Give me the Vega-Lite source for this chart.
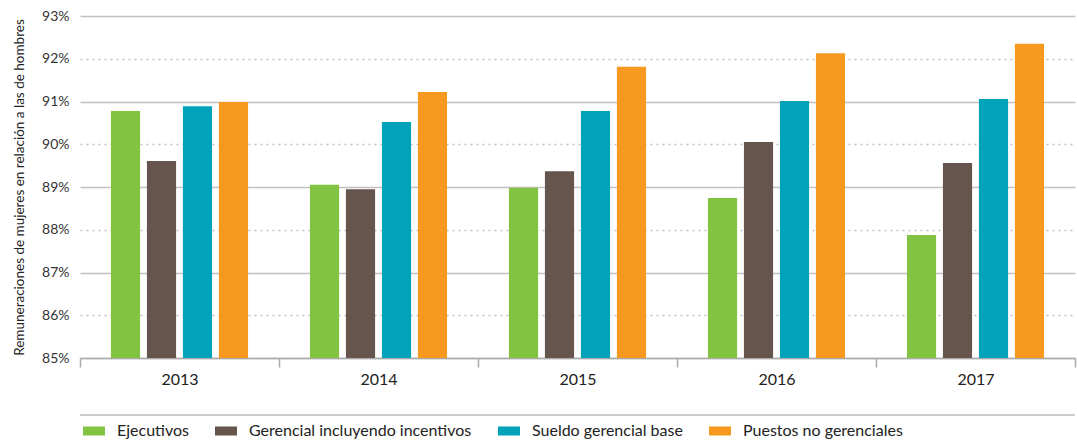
{
  "$schema": "https://vega.github.io/schema/vega-lite/v6.json",
  "width": 995,
  "height": 342,
  "autosize": {"type": "none"},
  "padding": {"left": 80, "top": 16, "right": 2, "bottom": 83},
  "config": {"font": "Lato", "view": {"stroke": null}},
  "data": {
    "values": [
      {"year": "2013", "serie": "Ejecutivos", "valor": 90.78},
      {"year": "2013", "serie": "Gerencial incluyendo incentivos", "valor": 89.61},
      {"year": "2013", "serie": "Sueldo gerencial base", "valor": 90.89},
      {"year": "2013", "serie": "Puestos no gerenciales", "valor": 90.99},
      {"year": "2014", "serie": "Ejecutivos", "valor": 89.05},
      {"year": "2014", "serie": "Gerencial incluyendo incentivos", "valor": 88.95},
      {"year": "2014", "serie": "Sueldo gerencial base", "valor": 90.52},
      {"year": "2014", "serie": "Puestos no gerenciales", "valor": 91.22},
      {"year": "2015", "serie": "Ejecutivos", "valor": 88.98},
      {"year": "2015", "serie": "Gerencial incluyendo incentivos", "valor": 89.37},
      {"year": "2015", "serie": "Sueldo gerencial base", "valor": 90.78},
      {"year": "2015", "serie": "Puestos no gerenciales", "valor": 91.81},
      {"year": "2016", "serie": "Ejecutivos", "valor": 88.74},
      {"year": "2016", "serie": "Gerencial incluyendo incentivos", "valor": 90.05},
      {"year": "2016", "serie": "Sueldo gerencial base", "valor": 91.01},
      {"year": "2016", "serie": "Puestos no gerenciales", "valor": 92.13},
      {"year": "2017", "serie": "Ejecutivos", "valor": 87.88},
      {"year": "2017", "serie": "Gerencial incluyendo incentivos", "valor": 89.56},
      {"year": "2017", "serie": "Sueldo gerencial base", "valor": 91.06},
      {"year": "2017", "serie": "Puestos no gerenciales", "valor": 92.35}
    ]
  },
  "layer": [
    {
      "mark": {"type": "bar"},
      "encoding": {
        "x": {
          "field": "year", "type": "nominal",
          "scale": {"paddingInner": 0, "paddingOuter": 0},
          "axis": {
            "title": null, "labelAngle": 0, "tickBand": "extent",
            "domainColor": "#aaaaaa", "domainWidth": 1.5,
            "tickColor": "#aaaaaa", "tickWidth": 1.5, "tickSize": 9,
            "labelFontSize": 16, "labelColor": "#222222", "labelPadding": 4
          }
        },
        "xOffset": {
          "field": "serie", "type": "nominal",
          "sort": ["Ejecutivos", "Gerencial incluyendo incentivos", "Sueldo gerencial base", "Puestos no gerenciales"],
          "scale": {"paddingInner": 0.19, "paddingOuter": 0.86}
        },
        "y": {
          "field": "valor", "type": "quantitative",
          "scale": {"domain": [85, 93], "nice": false, "zero": false},
          "axis": {
            "values": [85, 86, 87, 88, 89, 90, 91, 92, 93],
            "labelExpr": "datum.value + '%'",
            "domain": false, "ticks": false,
            "grid": true, "gridColor": "#c4c0c0", "gridWidth": 1.5,
            "gridDash": {"condition": {"test": "round(datum.value) % 2 == 0", "value": [2, 4]}, "value": []},
            "labelFontSize": 14, "labelColor": "#333333", "labelPadding": 11,
            "title": "Remuneraciones de mujeres en relación a las de hombres",
            "titleFontSize": 13.5, "titleFontWeight": "normal", "titleColor": "#222222", "titlePadding": 15
          }
        },
        "y2": {"datum": 85},
        "color": {
          "field": "serie", "type": "nominal",
          "sort": ["Ejecutivos", "Gerencial incluyendo incentivos", "Sueldo gerencial base", "Puestos no gerenciales"],
          "scale": {
            "domain": ["Ejecutivos", "Gerencial incluyendo incentivos", "Sueldo gerencial base", "Puestos no gerenciales"],
            "range": ["#82c341", "#65554d", "#00a3ba", "#f7991e"]
          },
          "legend": {
            "title": null, "orient": "bottom", "direction": "horizontal",
            "symbolType": "M-1,-0.41H1V0.41H-1Z", "symbolSize": 484, "symbolStrokeWidth": 0,
            "labelFontSize": 16, "labelColor": "#222222", "labelOffset": 12, "labelLimit": 400,
            "columnPadding": 26, "offset": 30, "padding": 3
          }
        }
      }
    },
    {
      "data": {"values": [{}]},
      "mark": {"type": "rule", "color": "#bbbbbb", "strokeWidth": 1.5},
      "encoding": {"y": {"datum": 83.667}}
    }
  ]
}
